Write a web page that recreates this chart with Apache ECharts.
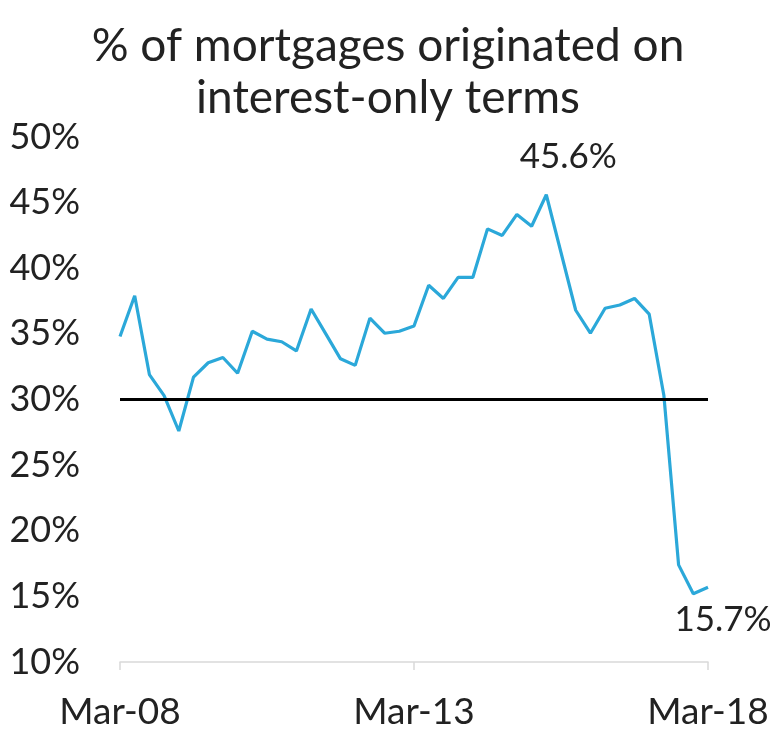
<!DOCTYPE html>
<html>
<head>
<meta charset="utf-8">
<script src="https://cdn.jsdelivr.net/npm/echarts@6/dist/echarts.min.js"></script>
<style>
  html, body { margin: 0; padding: 0; background: #ffffff; }
  #chart { width: 776px; height: 735px; }
</style>
</head>
<body>
<div id="chart"></div>
<script>
// Quarterly periods, Mar-08 to Mar-18
const quarters = [
  'Mar-08','Jun-08','Sep-08','Dec-08',
  'Mar-09','Jun-09','Sep-09','Dec-09',
  'Mar-10','Jun-10','Sep-10','Dec-10',
  'Mar-11','Jun-11','Sep-11','Dec-11',
  'Mar-12','Jun-12','Sep-12','Dec-12',
  'Mar-13','Jun-13','Sep-13','Dec-13',
  'Mar-14','Jun-14','Sep-14','Dec-14',
  'Mar-15','Jun-15','Sep-15','Dec-15',
  'Mar-16','Jun-16','Sep-16','Dec-16',
  'Mar-17','Jun-17','Sep-17','Dec-17',
  'Mar-18'
];

// Share of mortgages originated on interest-only terms (%)
const interestOnlyShare = [
  34.8, 37.9, 31.9, 30.3, 27.6, 31.7, 32.8, 33.2, 32.0, 35.2,
  34.6, 34.4, 33.7, 36.9, 35.0, 33.1, 32.6, 36.2, 35.05, 35.2,
  35.6, 38.7, 37.7, 39.3, 39.3, 43.0, 42.5, 44.1, 43.2, 45.6,
  41.2, 36.8, 35.05, 36.95, 37.2, 37.7, 36.5, 30.3, 17.4, 15.2,
  15.7
];

// Reference level drawn as a horizontal rule
const referenceLevel = 30;

// Points whose values are written on the chart
const labelledPeak = 29;
const labelledLast = 40;

const FONT = 'Lato, "Noto Sans", sans-serif';

const seriesData = interestOnlyShare.map((v, i) => {
  if (i === labelledPeak) {
    return { value: v, label: { show: true, position: 'top', offset: [22, -16] } };
  }
  if (i === labelledLast) {
    return { value: v, label: { show: true, position: 'bottom', offset: [15, 10] } };
  }
  return v;
});

const chart = echarts.init(document.getElementById('chart'), null, { renderer: 'canvas' });

chart.setOption({
  animation: false,
  backgroundColor: '#ffffff',
  title: {
    text: '% of mortgages originated on\ninterest-only terms',
    left: 'center',
    top: 15,
    textStyle: {
      fontFamily: FONT,
      fontSize: 46,
      fontWeight: 'normal',
      color: '#222222',
      lineHeight: 52
    }
  },
  grid: { left: 120, right: 68, top: 137, bottom: 73, containLabel: false },
  xAxis: {
    type: 'category',
    data: quarters,
    boundaryGap: false,
    axisLine: { show: true, lineStyle: { color: '#d9d9d9', width: 1.5 } },
    axisTick: { show: true, interval: 19, length: 8, lineStyle: { color: '#d9d9d9', width: 1.5 } },
    axisLabel: {
      interval: 19,
      margin: 32,
      fontFamily: FONT,
      fontSize: 37,
      color: '#222222'
    },
    splitLine: { show: false }
  },
  yAxis: {
    type: 'value',
    min: 10,
    max: 50,
    interval: 5,
    axisLine: { show: false },
    axisTick: { show: false },
    splitLine: { show: false },
    axisLabel: {
      formatter: '{value}%',
      margin: 40,
      fontFamily: FONT,
      fontSize: 36,
      color: '#222222'
    }
  },
  series: [{
    type: 'line',
    data: seriesData,
    showSymbol: true,
    symbol: 'circle',
    symbolSize: 0,
    lineStyle: { color: '#2ba8d9', width: 3.2 },
    itemStyle: { color: '#2ba8d9' },
    label: {
      show: false,
      formatter: p => p.value + '%',
      fontFamily: FONT,
      fontSize: 35,
      color: '#222222'
    },
    markLine: {
      silent: true,
      symbol: ['none', 'none'],
      label: { show: false },
      lineStyle: { color: '#000000', width: 3, type: 'solid' },
      data: [{ yAxis: referenceLevel }]
    },
    z: 3
  }]
});
</script>
</body>
</html>
